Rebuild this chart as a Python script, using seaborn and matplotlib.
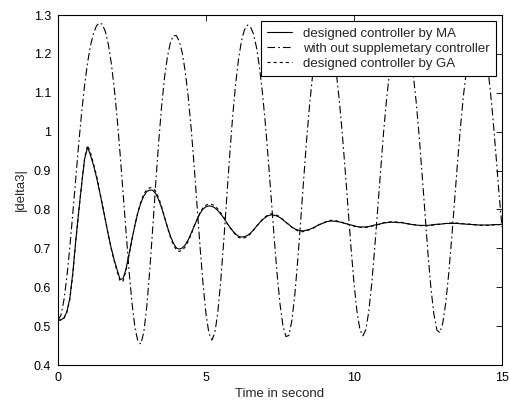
import numpy as np
import pandas as pd
import matplotlib
matplotlib.use("Agg")
import matplotlib.pyplot as plt
import seaborn as sns

# Sample times (s) of the simulated rotor-angle response
T_START, T_STOP, T_STEP = 0.0, 15.0, 0.1

# |delta3| with the controller designed by MA
ma_values = [
    0.515, 0.516, 0.521, 0.537, 0.572, 0.637, 0.720, 0.795, 0.865, 0.930,
    0.960, 0.939, 0.913, 0.883, 0.848, 0.811, 0.773, 0.735, 0.700, 0.670,
    0.644, 0.620, 0.622, 0.648, 0.685, 0.724, 0.760, 0.792, 0.817, 0.835,
    0.846, 0.850, 0.849, 0.841, 0.825, 0.804, 0.779, 0.754, 0.731, 0.713,
    0.701, 0.698, 0.701, 0.709, 0.722, 0.739, 0.757, 0.774, 0.790, 0.801,
    0.807, 0.809, 0.808, 0.804, 0.797, 0.788, 0.778, 0.766, 0.755, 0.745,
    0.737, 0.731, 0.729, 0.730, 0.733, 0.739, 0.747, 0.756, 0.765, 0.773,
    0.779, 0.784, 0.786, 0.785, 0.783, 0.779, 0.773, 0.767, 0.761, 0.755,
    0.750, 0.747, 0.745, 0.745, 0.747, 0.749, 0.752, 0.756, 0.760, 0.763,
    0.766, 0.769, 0.770, 0.770, 0.769, 0.768, 0.766, 0.764, 0.762, 0.760,
    0.758, 0.756, 0.755, 0.755, 0.755, 0.756, 0.758, 0.760, 0.761, 0.763,
    0.765, 0.766, 0.767, 0.767, 0.767, 0.766, 0.766, 0.765, 0.763, 0.762,
    0.761, 0.760, 0.759, 0.759, 0.759, 0.759, 0.760, 0.761, 0.762, 0.762,
    0.763, 0.764, 0.764, 0.764, 0.764, 0.764, 0.763, 0.763, 0.762, 0.762,
    0.761, 0.761, 0.760, 0.760, 0.760, 0.760, 0.760, 0.761, 0.761, 0.761,
    0.762,
]

# |delta3| without the supplementary controller
open_loop_values = [
    0.515, 0.528, 0.567, 0.627, 0.703, 0.790, 0.881, 0.969, 1.050, 1.120,
    1.178, 1.222, 1.253, 1.272, 1.280, 1.276, 1.257, 1.225, 1.176, 1.112,
    1.033, 0.941, 0.841, 0.739, 0.642, 0.559, 0.496, 0.460, 0.454, 0.485,
    0.551, 0.644, 0.752, 0.865, 0.972, 1.065, 1.140, 1.194, 1.230, 1.247,
    1.247, 1.232, 1.202, 1.154, 1.089, 1.007, 0.912, 0.808, 0.703, 0.608,
    0.531, 0.481, 0.464, 0.483, 0.536, 0.618, 0.719, 0.830, 0.939, 1.038,
    1.122, 1.187, 1.234, 1.262, 1.274, 1.270, 1.252, 1.219, 1.170, 1.105,
    1.025, 0.933, 0.832, 0.731, 0.636, 0.557, 0.501, 0.473, 0.476, 0.514,
    0.580, 0.670, 0.772, 0.878, 0.980, 1.069, 1.144, 1.200, 1.240, 1.263,
    1.270, 1.263, 1.242, 1.205, 1.153, 1.083, 0.999, 0.903, 0.801, 0.701,
    0.610, 0.538, 0.491, 0.475, 0.491, 0.538, 0.610, 0.701, 0.801, 0.903,
    0.999, 1.083, 1.153, 1.205, 1.242, 1.263, 1.270, 1.263, 1.241, 1.203,
    1.148, 1.077, 0.990, 0.891, 0.787, 0.686, 0.597, 0.530, 0.490, 0.483,
    0.508, 0.560, 0.635, 0.726, 0.825, 0.923, 1.014, 1.094, 1.159, 1.209,
    1.252, 1.268, 1.268, 1.252, 1.222, 1.175, 1.110, 1.030, 0.937, 0.840,
    0.755,
]

# |delta3| with the controller designed by GA
ga_values = [
    0.515, 0.516, 0.520, 0.535, 0.568, 0.632, 0.716, 0.793, 0.866, 0.934,
    0.965, 0.945, 0.918, 0.888, 0.851, 0.813, 0.773, 0.734, 0.698, 0.667,
    0.640, 0.615, 0.616, 0.644, 0.682, 0.722, 0.760, 0.794, 0.820, 0.840,
    0.851, 0.856, 0.855, 0.847, 0.830, 0.808, 0.780, 0.753, 0.728, 0.709,
    0.696, 0.692, 0.695, 0.704, 0.718, 0.736, 0.757, 0.775, 0.793, 0.804,
    0.811, 0.814, 0.813, 0.809, 0.801, 0.791, 0.780, 0.766, 0.754, 0.744,
    0.735, 0.728, 0.726, 0.727, 0.730, 0.737, 0.746, 0.756, 0.765, 0.774,
    0.781, 0.786, 0.789, 0.788, 0.785, 0.781, 0.774, 0.767, 0.761, 0.754,
    0.749, 0.745, 0.743, 0.743, 0.745, 0.748, 0.751, 0.755, 0.760, 0.764,
    0.767, 0.770, 0.772, 0.772, 0.771, 0.769, 0.767, 0.764, 0.762, 0.759,
    0.757, 0.755, 0.754, 0.753, 0.754, 0.755, 0.757, 0.759, 0.761, 0.763,
    0.766, 0.767, 0.768, 0.768, 0.768, 0.767, 0.767, 0.765, 0.764, 0.762,
    0.761, 0.760, 0.759, 0.758, 0.758, 0.758, 0.759, 0.760, 0.761, 0.762,
    0.763, 0.764, 0.765, 0.765, 0.765, 0.765, 0.764, 0.763, 0.762, 0.762,
    0.761, 0.760, 0.760, 0.759, 0.759, 0.759, 0.760, 0.760, 0.761, 0.761,
    0.762,
]

series_names = [
    "designed controller by MA",
    "with out supplemetary controller",
    "designed controller by GA",
]

x_ticks = [0, 5, 10, 15]
y_ticks = [0.4, 0.5, 0.6, 0.7, 0.8, 0.9, 1.0, 1.1, 1.2, 1.3]
y_tick_labels = ["0.4", "0.5", "0.6", "0.7", "0.8", "0.9", "1", "1.1", "1.2", "1.3"]

sns.set_style("white")
plt.rcParams["font.family"] = ["Liberation Sans", "DejaVu Sans"]
plt.rcParams["lines.scale_dashes"] = False

time = np.round(np.arange(T_START, T_STOP + T_STEP / 2, T_STEP), 2)
frames = []
for name, vals in zip(series_names, [ma_values, open_loop_values, ga_values]):
    frames.append(pd.DataFrame({"t": time, "delta": vals, "series": name}))
df = pd.concat(frames, ignore_index=True)

line_dashes = {
    series_names[0]: "",
    series_names[1]: (5.5, 2.2, 1.2, 2.2),
    series_names[2]: (2.2, 2.2),
}

fig = plt.figure(figsize=(5.09, 4.01), dpi=100)
fig.patch.set_facecolor("white")
ax = fig.add_axes([58 / 509, 36 / 401, 444 / 509, 350 / 401])

sns.lineplot(
    data=df, x="t", y="delta", style="series", style_order=series_names,
    dashes=line_dashes, color="black", linewidth=0.8,
    estimator=None, sort=False, legend=False, ax=ax,
)

ax.set_xlim(0, 15)
ax.set_ylim(0.4, 1.3)
ax.set_xticks(x_ticks)
ax.set_xticklabels([str(v) for v in x_ticks])
ax.set_yticks(y_ticks)
ax.set_yticklabels(y_tick_labels)
ax.tick_params(direction="in", top=True, right=True, length=4, width=0.6,
               labelsize=9, pad=5, colors="black")
for sp in ax.spines.values():
    sp.set_visible(True)
    sp.set_color("black")
    sp.set_linewidth(0.8)

ax.set_xlabel("Time in second", fontsize=9.5, labelpad=3)
ax.set_ylabel("|delta3|", fontsize=9.5, labelpad=5)

handles = ax.get_lines()[:3]
leg = ax.legend(
    handles, series_names, loc="upper right", fontsize=9.5,
    frameon=True, fancybox=False, shadow=False, framealpha=1,
    edgecolor="black", borderpad=0.5, labelspacing=0.2,
    handlelength=1.9, handletextpad=0.8, borderaxespad=0.45,
)
leg.get_frame().set_linewidth(0.8)

fig.savefig("out.png", dpi=100, facecolor="white")
